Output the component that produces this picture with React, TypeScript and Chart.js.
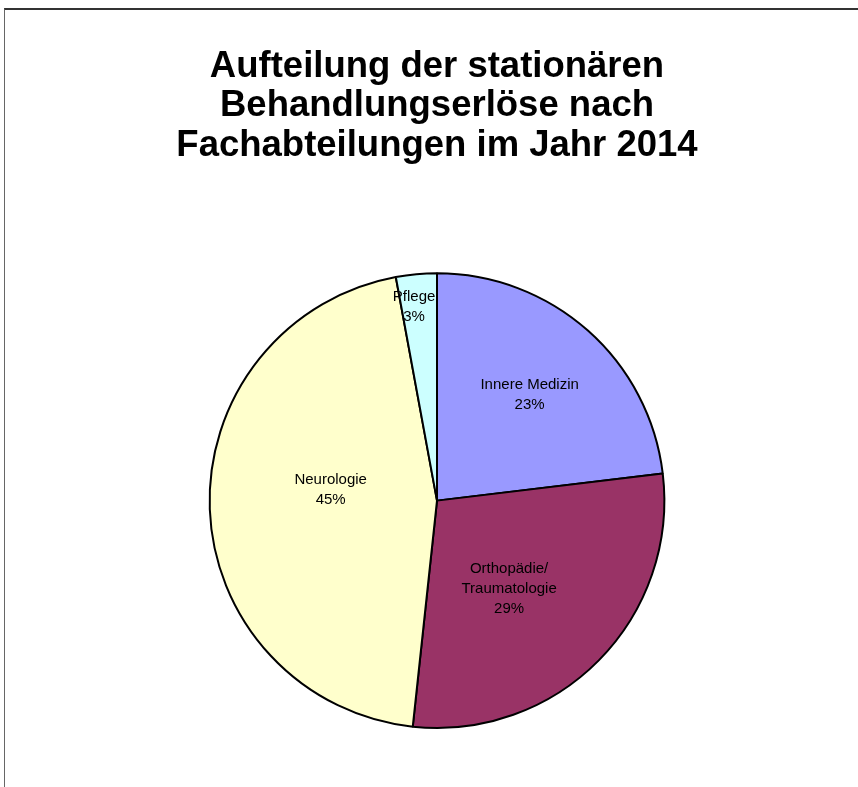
import React, { useEffect, useRef } from "react";
import { Chart, registerables } from "chart.js";

Chart.register(...registerables);

const titleLines = [
  "Aufteilung der stationären",
  "Behandlungserlöse nach",
  "Fachabteilungen im Jahr 2014",
];
const categories = ["Innere Medizin", "Orthopädie/\nTraumatologie", "Neurologie", "Pflege"];
const shares = [23.1, 28.6, 45.4, 2.9];
const percentLabels = ["23%", "29%", "45%", "3%"];
const sliceColors = ["#9999FF", "#993366", "#FFFFCC", "#CCFFFF"];

// label anchor: fraction of radius, angular offset in degrees
const labelAnchors = [
  { r: 0.62, da: -0.5 },
  { r: 0.5, da: 6 },
  { r: 0.47, da: 8 },
  { r: 0.86, da: -1.5 },
];

const sliceLabelPlugin = {
  id: "sliceLabels",
  afterDatasetsDraw(chart: any) {
    const meta = chart.getDatasetMeta(0);
    const ctx = chart.ctx;
    ctx.save();
    ctx.font = '15px "Liberation Sans", Arial, sans-serif';
    ctx.fillStyle = "#000";
    ctx.textAlign = "center";
    ctx.textBaseline = "middle";
    meta.data.forEach((arc: any, i: number) => {
      const p = arc.getProps(["x", "y", "startAngle", "endAngle", "outerRadius"], true);
      const a = (p.startAngle + p.endAngle) / 2 + (labelAnchors[i].da * Math.PI) / 180;
      const rr = p.outerRadius * labelAnchors[i].r;
      const cx = p.x + Math.cos(a) * rr;
      const cy = p.y + Math.sin(a) * rr;
      const lines = categories[i].split("\n").concat([percentLabels[i]]);
      const lh = 20;
      const y0 = cy - ((lines.length - 1) * lh) / 2;
      lines.forEach((t, k) => ctx.fillText(t, cx, y0 + k * lh));
    });
    ctx.restore();
  },
};

export default function App() {
  const ref = useRef<HTMLCanvasElement>(null);
  useEffect(() => {
    if (!ref.current) return;
    const chart = new Chart(ref.current, {
      type: "pie",
      data: {
        labels: categories,
        datasets: [
          {
            data: shares,
            backgroundColor: sliceColors,
            borderColor: "#000",
            borderWidth: 2,
          },
        ],
      },
      options: {
        animation: false,
        responsive: false,
        layout: { padding: { left: 16, right: 0, top: 0, bottom: 58 } },
        plugins: {
          legend: { display: false },
          tooltip: { enabled: false },
          title: {
            display: true,
            text: titleLines,
            color: "#000",
            font: { family: '"Liberation Sans", Arial, sans-serif', size: 36.5, weight: "bold", lineHeight: 1.08 },
            padding: { top: 47, bottom: 107 },
          },
        },
      },
      plugins: [sliceLabelPlugin],
    });
    return () => chart.destroy();
  }, []);
  return (
    <div style={{ position: "absolute", left: 0, top: 0, width: 858, height: 787, background: "#fff", overflow: "hidden" }}>
      <div
        style={{
          position: "absolute",
          left: 4,
          top: 8,
          width: 900,
          height: 900,
          borderTop: "2px solid #333",
          borderLeft: "1px solid #666",
        }}
      />
      <canvas ref={ref} width={858} height={787} style={{ position: "absolute", left: 0, top: 0 }} />
    </div>
  );
}
